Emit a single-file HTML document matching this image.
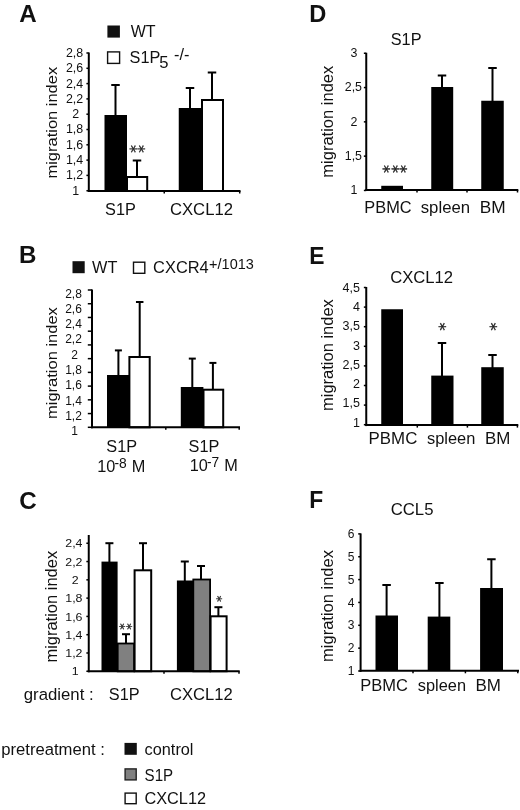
<!DOCTYPE html>
<html lang="en">
<head>
<meta charset="utf-8">
<title>Figure</title>
<style>
html,body{margin:0;padding:0;background:#fff;}
svg{display:block;}
svg text{font-family:"Liberation Sans", "DejaVu Sans", sans-serif;fill:#111;}
svg text.ast{font-family:"DejaVu Sans", "Liberation Sans", sans-serif;fill:#1c1c1c;stroke:#1c1c1c;stroke-width:0.3px;}
</style>
</head>
<body>
<svg width="520" height="810" viewBox="0 0 520 810">
<rect x="0" y="0" width="520" height="810" fill="#fff"/>
<text transform="translate(19.20 22.00) scale(1.0232 1)" font-size="23.6" font-weight="bold">A</text>
<rect x="107.40" y="25.50" width="12.50" height="12.10" fill="#111"/>
<text transform="translate(130.63 37.30) scale(0.9841 1)" font-size="16.3">WT</text>
<rect x="107.60" y="51.90" width="12.00" height="11.50" fill="#fff" stroke="#111" stroke-width="1.4"/>
<text x="129.56" y="62.70" font-size="16.3">S1P</text>
<text x="159.34" y="67.80" font-size="16.6">5</text>
<text x="174.08" y="59.60" font-size="16.3">-/-</text>
<line x1="88.80" y1="52.50" x2="88.80" y2="192.00" stroke="#000" stroke-width="2"/>
<line x1="86.40" y1="53.00" x2="88.80" y2="53.00" stroke="#000" stroke-width="1.5"/>
<line x1="86.40" y1="68.30" x2="88.80" y2="68.30" stroke="#000" stroke-width="1.5"/>
<line x1="86.40" y1="83.60" x2="88.80" y2="83.60" stroke="#000" stroke-width="1.5"/>
<line x1="86.40" y1="98.90" x2="88.80" y2="98.90" stroke="#000" stroke-width="1.5"/>
<line x1="86.40" y1="114.20" x2="88.80" y2="114.20" stroke="#000" stroke-width="1.5"/>
<line x1="86.40" y1="129.50" x2="88.80" y2="129.50" stroke="#000" stroke-width="1.5"/>
<line x1="86.40" y1="144.80" x2="88.80" y2="144.80" stroke="#000" stroke-width="1.5"/>
<line x1="86.40" y1="160.10" x2="88.80" y2="160.10" stroke="#000" stroke-width="1.5"/>
<line x1="86.40" y1="175.40" x2="88.80" y2="175.40" stroke="#000" stroke-width="1.5"/>
<line x1="86.40" y1="190.70" x2="88.80" y2="190.70" stroke="#000" stroke-width="1.5"/>
<text transform="translate(74.50 56.93) scale(1.0 1)" font-size="12.4" text-anchor="middle">2,8</text>
<text transform="translate(74.50 72.23) scale(1.0 1)" font-size="12.4" text-anchor="middle">2,6</text>
<text transform="translate(74.50 87.53) scale(1.0 1)" font-size="12.4" text-anchor="middle">2,4</text>
<text transform="translate(74.50 102.83) scale(1.0 1)" font-size="12.4" text-anchor="middle">2,2</text>
<text transform="translate(75.70 118.13) scale(1.0 1)" font-size="12.4" text-anchor="middle">2</text>
<text transform="translate(74.50 133.43) scale(1.0 1)" font-size="12.4" text-anchor="middle">1,8</text>
<text transform="translate(74.50 148.73) scale(1.0 1)" font-size="12.4" text-anchor="middle">1,6</text>
<text transform="translate(74.50 164.03) scale(1.0 1)" font-size="12.4" text-anchor="middle">1,4</text>
<text transform="translate(74.50 179.33) scale(1.0 1)" font-size="12.4" text-anchor="middle">1,2</text>
<text transform="translate(75.70 194.63) scale(1.0 1)" font-size="12.4" text-anchor="middle">1</text>
<text transform="translate(57.0 122.7) rotate(-90) scale(1.115 1)" font-size="14.8" text-anchor="middle">migration index</text>
<rect x="104.50" y="115.00" width="22.50" height="76.00" fill="#000"/>
<rect x="127.00" y="177.00" width="20.20" height="14.00" fill="#fff" stroke="#000" stroke-width="2"/>
<rect x="178.75" y="108.00" width="23.25" height="83.00" fill="#000"/>
<rect x="202.00" y="100.00" width="21.00" height="91.00" fill="#fff" stroke="#000" stroke-width="2"/>
<line x1="115.50" y1="85.00" x2="115.50" y2="115.00" stroke="#000" stroke-width="2"/>
<line x1="111.25" y1="85.00" x2="119.75" y2="85.00" stroke="#000" stroke-width="2"/>
<line x1="137.00" y1="160.50" x2="137.00" y2="177.00" stroke="#000" stroke-width="2"/>
<line x1="132.75" y1="160.50" x2="141.25" y2="160.50" stroke="#000" stroke-width="2"/>
<line x1="190.00" y1="88.00" x2="190.00" y2="108.00" stroke="#000" stroke-width="2"/>
<line x1="185.75" y1="88.00" x2="194.25" y2="88.00" stroke="#000" stroke-width="2"/>
<line x1="212.00" y1="72.50" x2="212.00" y2="100.00" stroke="#000" stroke-width="2"/>
<line x1="207.75" y1="72.50" x2="216.25" y2="72.50" stroke="#000" stroke-width="2"/>
<line x1="87.80" y1="191.00" x2="240.50" y2="191.00" stroke="#000" stroke-width="2"/>
<line x1="164.25" y1="191.00" x2="164.25" y2="193.50" stroke="#000" stroke-width="1.5"/>
<line x1="239.70" y1="191.00" x2="239.70" y2="193.50" stroke="#000" stroke-width="1.5"/>
<text class="ast" transform="rotate(90 133.00 149.00)" x="129.10" y="157.02" font-size="15.6">*</text>
<text class="ast" transform="rotate(90 141.50 149.00)" x="137.60" y="157.02" font-size="15.6">*</text>
<text x="105.06" y="215.00" font-size="16.3">S1P</text>
<text transform="translate(169.95 215.00) scale(1.0240 1)" font-size="16.3">CXCL12</text>
<text transform="translate(19.09 263.00) scale(1.0213 1)" font-size="23.6" font-weight="bold">B</text>
<rect x="72.50" y="261.20" width="12.20" height="12.00" fill="#111"/>
<text x="92.03" y="273.10" font-size="16.3">WT</text>
<rect x="133.50" y="262.20" width="11.30" height="11.10" fill="#fff" stroke="#111" stroke-width="1.4"/>
<text transform="translate(153.07 273.20) scale(1.0084 1)" font-size="16.3">CXCR4</text>
<text transform="translate(209.09 269.20) scale(1.0068 1)" font-size="14.4">+/1013</text>
<line x1="92.00" y1="289.50" x2="92.00" y2="428.30" stroke="#000" stroke-width="2"/>
<line x1="87.80" y1="290.00" x2="92.00" y2="290.00" stroke="#000" stroke-width="1.5"/>
<line x1="87.80" y1="303.73" x2="92.00" y2="303.73" stroke="#000" stroke-width="1.5"/>
<line x1="87.80" y1="317.46" x2="92.00" y2="317.46" stroke="#000" stroke-width="1.5"/>
<line x1="87.80" y1="331.19" x2="92.00" y2="331.19" stroke="#000" stroke-width="1.5"/>
<line x1="87.80" y1="344.92" x2="92.00" y2="344.92" stroke="#000" stroke-width="1.5"/>
<line x1="87.80" y1="358.65" x2="92.00" y2="358.65" stroke="#000" stroke-width="1.5"/>
<line x1="87.80" y1="372.38" x2="92.00" y2="372.38" stroke="#000" stroke-width="1.5"/>
<line x1="87.80" y1="386.11" x2="92.00" y2="386.11" stroke="#000" stroke-width="1.5"/>
<line x1="87.80" y1="399.84" x2="92.00" y2="399.84" stroke="#000" stroke-width="1.5"/>
<line x1="87.80" y1="413.57" x2="92.00" y2="413.57" stroke="#000" stroke-width="1.5"/>
<line x1="87.80" y1="427.30" x2="92.00" y2="427.30" stroke="#000" stroke-width="1.5"/>
<text transform="translate(73.50 297.59) scale(1.0 1)" font-size="12" text-anchor="middle">2,8</text>
<text transform="translate(73.50 312.89) scale(1.0 1)" font-size="12" text-anchor="middle">2,6</text>
<text transform="translate(73.50 328.19) scale(1.0 1)" font-size="12" text-anchor="middle">2,4</text>
<text transform="translate(73.50 343.49) scale(1.0 1)" font-size="12" text-anchor="middle">2,2</text>
<text transform="translate(74.70 358.79) scale(1.0 1)" font-size="12" text-anchor="middle">2</text>
<text transform="translate(73.50 374.09) scale(1.0 1)" font-size="12" text-anchor="middle">1,8</text>
<text transform="translate(73.50 389.39) scale(1.0 1)" font-size="12" text-anchor="middle">1,6</text>
<text transform="translate(73.50 404.69) scale(1.0 1)" font-size="12" text-anchor="middle">1,4</text>
<text transform="translate(73.50 419.99) scale(1.0 1)" font-size="12" text-anchor="middle">1,2</text>
<text transform="translate(74.70 435.29) scale(1.0 1)" font-size="12" text-anchor="middle">1</text>
<text transform="translate(56.7 363.1) rotate(-90) scale(1.115 1)" font-size="14.8" text-anchor="middle">migration index</text>
<rect x="107.00" y="375.00" width="22.20" height="52.30" fill="#000"/>
<rect x="129.40" y="357.00" width="20.30" height="70.30" fill="#fff" stroke="#000" stroke-width="2"/>
<rect x="180.80" y="387.00" width="22.60" height="40.30" fill="#000"/>
<rect x="203.50" y="389.70" width="19.70" height="37.60" fill="#fff" stroke="#000" stroke-width="2"/>
<line x1="118.40" y1="350.40" x2="118.40" y2="375.00" stroke="#000" stroke-width="2"/>
<line x1="114.90" y1="350.40" x2="121.90" y2="350.40" stroke="#000" stroke-width="2"/>
<line x1="139.70" y1="302.00" x2="139.70" y2="357.00" stroke="#000" stroke-width="2"/>
<line x1="135.95" y1="302.00" x2="143.45" y2="302.00" stroke="#000" stroke-width="2"/>
<line x1="192.30" y1="358.60" x2="192.30" y2="387.00" stroke="#000" stroke-width="2"/>
<line x1="188.80" y1="358.60" x2="195.80" y2="358.60" stroke="#000" stroke-width="2"/>
<line x1="212.90" y1="362.90" x2="212.90" y2="389.70" stroke="#000" stroke-width="2"/>
<line x1="209.40" y1="362.90" x2="216.40" y2="362.90" stroke="#000" stroke-width="2"/>
<line x1="91.00" y1="427.30" x2="240.00" y2="427.30" stroke="#000" stroke-width="2"/>
<line x1="165.80" y1="427.30" x2="165.80" y2="429.80" stroke="#000" stroke-width="1.5"/>
<line x1="239.20" y1="427.30" x2="239.20" y2="429.80" stroke="#000" stroke-width="1.5"/>
<text x="106.36" y="452.30" font-size="16.3">S1P</text>
<text x="188.56" y="452.30" font-size="16.3">S1P</text>
<text x="97.16" y="472.40" font-size="16.3">10</text>
<text x="114.39" y="468.40" font-size="13.8">-8</text>
<text x="131.86" y="472.40" font-size="16.3">M</text>
<text x="189.76" y="471.20" font-size="16.3">10</text>
<text x="206.99" y="467.20" font-size="13.8">-7</text>
<text x="224.26" y="471.20" font-size="16.3">M</text>
<text transform="translate(19.21 509.40) scale(1.0240 1)" font-size="23.6" font-weight="bold">C</text>
<line x1="88.75" y1="535.00" x2="88.75" y2="672.25" stroke="#000" stroke-width="2"/>
<line x1="86.35" y1="543.25" x2="88.75" y2="543.25" stroke="#000" stroke-width="1.5"/>
<line x1="86.35" y1="561.54" x2="88.75" y2="561.54" stroke="#000" stroke-width="1.5"/>
<line x1="86.35" y1="579.83" x2="88.75" y2="579.83" stroke="#000" stroke-width="1.5"/>
<line x1="86.35" y1="598.12" x2="88.75" y2="598.12" stroke="#000" stroke-width="1.5"/>
<line x1="86.35" y1="616.41" x2="88.75" y2="616.41" stroke="#000" stroke-width="1.5"/>
<line x1="86.35" y1="634.70" x2="88.75" y2="634.70" stroke="#000" stroke-width="1.5"/>
<line x1="86.35" y1="652.99" x2="88.75" y2="652.99" stroke="#000" stroke-width="1.5"/>
<line x1="86.35" y1="671.28" x2="88.75" y2="671.28" stroke="#000" stroke-width="1.5"/>
<text transform="translate(73.90 547.37) scale(1.05 1)" font-size="11.8" text-anchor="middle">2,4</text>
<text transform="translate(73.90 565.66) scale(1.05 1)" font-size="11.8" text-anchor="middle">2,2</text>
<text transform="translate(75.10 583.95) scale(1.05 1)" font-size="11.8" text-anchor="middle">2</text>
<text transform="translate(73.90 602.24) scale(1.05 1)" font-size="11.8" text-anchor="middle">1,8</text>
<text transform="translate(73.90 620.53) scale(1.05 1)" font-size="11.8" text-anchor="middle">1,6</text>
<text transform="translate(73.90 638.82) scale(1.05 1)" font-size="11.8" text-anchor="middle">1,4</text>
<text transform="translate(73.90 657.11) scale(1.05 1)" font-size="11.8" text-anchor="middle">1,2</text>
<text transform="translate(75.10 675.40) scale(1.05 1)" font-size="11.8" text-anchor="middle">1</text>
<text transform="translate(57.4 606.7) rotate(-90) scale(1.038 1)" font-size="15.9" text-anchor="middle">migration index</text>
<rect x="101.50" y="561.60" width="16.10" height="109.65" fill="#000"/>
<rect x="117.70" y="643.50" width="16.40" height="27.85" fill="#808080" stroke="#000" stroke-width="1.8"/>
<rect x="134.60" y="570.30" width="16.60" height="100.95" fill="#fff" stroke="#000" stroke-width="2"/>
<rect x="176.90" y="580.50" width="16.40" height="90.75" fill="#000"/>
<rect x="193.30" y="579.50" width="16.80" height="91.85" fill="#808080" stroke="#000" stroke-width="1.8"/>
<rect x="210.60" y="616.30" width="16.00" height="54.95" fill="#fff" stroke="#000" stroke-width="2"/>
<line x1="109.40" y1="543.20" x2="109.40" y2="562.00" stroke="#000" stroke-width="2"/>
<line x1="105.40" y1="543.20" x2="113.40" y2="543.20" stroke="#000" stroke-width="2"/>
<line x1="126.00" y1="634.20" x2="126.00" y2="643.50" stroke="#000" stroke-width="2"/>
<line x1="122.00" y1="634.20" x2="130.00" y2="634.20" stroke="#000" stroke-width="2"/>
<line x1="143.00" y1="543.20" x2="143.00" y2="570.00" stroke="#000" stroke-width="2"/>
<line x1="139.00" y1="543.20" x2="147.00" y2="543.20" stroke="#000" stroke-width="2"/>
<line x1="184.80" y1="561.50" x2="184.80" y2="581.00" stroke="#000" stroke-width="2"/>
<line x1="180.80" y1="561.50" x2="188.80" y2="561.50" stroke="#000" stroke-width="2"/>
<line x1="201.00" y1="566.00" x2="201.00" y2="580.00" stroke="#000" stroke-width="2"/>
<line x1="197.00" y1="566.00" x2="205.00" y2="566.00" stroke="#000" stroke-width="2"/>
<line x1="218.40" y1="607.20" x2="218.40" y2="616.00" stroke="#000" stroke-width="2"/>
<line x1="214.40" y1="607.20" x2="222.40" y2="607.20" stroke="#000" stroke-width="2"/>
<line x1="87.75" y1="671.25" x2="239.70" y2="671.25" stroke="#000" stroke-width="2"/>
<line x1="164.00" y1="671.25" x2="164.00" y2="673.75" stroke="#000" stroke-width="1.5"/>
<line x1="239.00" y1="671.25" x2="239.00" y2="673.75" stroke="#000" stroke-width="1.5"/>
<text class="ast" transform="rotate(90 122.60 626.50)" x="119.35" y="633.18" font-size="13">*</text>
<text class="ast" transform="rotate(90 129.80 626.50)" x="126.55" y="633.18" font-size="13">*</text>
<text class="ast" transform="rotate(90 219.70 598.80)" x="216.45" y="605.48" font-size="13">*</text>
<text transform="translate(23.80 699.50) scale(1.0290 1)" font-size="16.3">gradient :</text>
<text x="108.86" y="700.00" font-size="16.3">S1P</text>
<text transform="translate(170.06 700.00) scale(1.0190 1)" font-size="16.3">CXCL12</text>
<text transform="translate(1.23 755.10) scale(1.0219 1)" font-size="16.3">pretreatment :</text>
<rect x="124.50" y="742.90" width="12.30" height="11.90" fill="#111"/>
<rect x="125.10" y="768.90" width="11.10" height="11.00" fill="#808080" stroke="#222" stroke-width="1.4"/>
<rect x="125.10" y="793.10" width="11.10" height="10.60" fill="#fff" stroke="#111" stroke-width="1.4"/>
<text x="144.61" y="754.90" font-size="16.3">control</text>
<text transform="translate(144.61 780.50) scale(0.9278 1)" font-size="16.3">S1P</text>
<text x="144.47" y="804.30" font-size="16.3">CXCL12</text>
<text transform="translate(309.22 21.80) scale(1.0018 1)" font-size="23.6" font-weight="bold">D</text>
<text x="390.76" y="44.50" font-size="16.3">S1P</text>
<line x1="366.25" y1="52.75" x2="366.25" y2="191.00" stroke="#000" stroke-width="2"/>
<line x1="363.85" y1="53.25" x2="366.25" y2="53.25" stroke="#000" stroke-width="1.5"/>
<line x1="363.85" y1="87.55" x2="366.25" y2="87.55" stroke="#000" stroke-width="1.5"/>
<line x1="363.85" y1="121.85" x2="366.25" y2="121.85" stroke="#000" stroke-width="1.5"/>
<line x1="363.85" y1="156.15" x2="366.25" y2="156.15" stroke="#000" stroke-width="1.5"/>
<line x1="363.85" y1="190.45" x2="366.25" y2="190.45" stroke="#000" stroke-width="1.5"/>
<text transform="translate(354.00 57.18) scale(1.0 1)" font-size="12.4" text-anchor="middle">3</text>
<text transform="translate(353.40 91.48) scale(1.0 1)" font-size="12.4" text-anchor="middle">2,5</text>
<text transform="translate(354.00 125.78) scale(1.0 1)" font-size="12.4" text-anchor="middle">2</text>
<text transform="translate(353.40 160.08) scale(1.0 1)" font-size="12.4" text-anchor="middle">1,5</text>
<text transform="translate(354.00 194.38) scale(1.0 1)" font-size="12.4" text-anchor="middle">1</text>
<text transform="translate(333.1 121.7) rotate(-90) scale(1.0127 1)" font-size="16.3" text-anchor="middle">migration index</text>
<rect x="381.25" y="185.80" width="21.75" height="4.20" fill="#000"/>
<rect x="431.25" y="87.00" width="21.95" height="103.00" fill="#000"/>
<rect x="481.25" y="100.75" width="22.50" height="89.25" fill="#000"/>
<line x1="442.00" y1="75.50" x2="442.00" y2="87.00" stroke="#000" stroke-width="2"/>
<line x1="437.75" y1="75.50" x2="446.25" y2="75.50" stroke="#000" stroke-width="2"/>
<line x1="492.50" y1="68.00" x2="492.50" y2="101.00" stroke="#000" stroke-width="2"/>
<line x1="488.25" y1="68.00" x2="496.75" y2="68.00" stroke="#000" stroke-width="2"/>
<line x1="365.25" y1="190.00" x2="518.30" y2="190.00" stroke="#000" stroke-width="2"/>
<line x1="417.00" y1="190.00" x2="417.00" y2="192.50" stroke="#000" stroke-width="1.5"/>
<line x1="467.00" y1="190.00" x2="467.00" y2="192.50" stroke="#000" stroke-width="1.5"/>
<line x1="517.50" y1="190.00" x2="517.50" y2="192.50" stroke="#000" stroke-width="1.5"/>
<text class="ast" transform="rotate(90 386.30 168.90)" x="382.35" y="177.02" font-size="15.8">*</text>
<text class="ast" transform="rotate(90 394.90 168.90)" x="390.95" y="177.02" font-size="15.8">*</text>
<text class="ast" transform="rotate(90 403.50 168.90)" x="399.55" y="177.02" font-size="15.8">*</text>
<text transform="translate(364.36 213.00) scale(1.0036 1)" font-size="16.3">PBMC</text>
<text transform="translate(420.73 213.00) scale(1.0275 1)" font-size="16.3">spleen</text>
<text transform="translate(479.78 213.00) scale(1.0608 1)" font-size="16.3">BM</text>
<text transform="translate(309.27 263.80) scale(0.9667 1)" font-size="23.6" font-weight="bold">E</text>
<text transform="translate(390.15 282.60) scale(1.0223 1)" font-size="16.3">CXCL12</text>
<line x1="366.25" y1="287.00" x2="366.25" y2="426.10" stroke="#000" stroke-width="2"/>
<line x1="363.85" y1="287.50" x2="366.25" y2="287.50" stroke="#000" stroke-width="1.5"/>
<line x1="363.85" y1="307.10" x2="366.25" y2="307.10" stroke="#000" stroke-width="1.5"/>
<line x1="363.85" y1="326.70" x2="366.25" y2="326.70" stroke="#000" stroke-width="1.5"/>
<line x1="363.85" y1="346.30" x2="366.25" y2="346.30" stroke="#000" stroke-width="1.5"/>
<line x1="363.85" y1="365.90" x2="366.25" y2="365.90" stroke="#000" stroke-width="1.5"/>
<line x1="363.85" y1="385.50" x2="366.25" y2="385.50" stroke="#000" stroke-width="1.5"/>
<line x1="363.85" y1="405.10" x2="366.25" y2="405.10" stroke="#000" stroke-width="1.5"/>
<line x1="363.85" y1="424.70" x2="366.25" y2="424.70" stroke="#000" stroke-width="1.5"/>
<text x="360.00" y="291.76" font-size="12.5" text-anchor="end">4,5</text>
<text x="360.00" y="311.01" font-size="12.5" text-anchor="end">4</text>
<text x="360.00" y="330.26" font-size="12.5" text-anchor="end">3,5</text>
<text x="360.00" y="349.51" font-size="12.5" text-anchor="end">3</text>
<text x="360.00" y="368.76" font-size="12.5" text-anchor="end">2,5</text>
<text x="360.00" y="388.01" font-size="12.5" text-anchor="end">2</text>
<text x="360.00" y="407.26" font-size="12.5" text-anchor="end">1,5</text>
<text x="360.00" y="426.51" font-size="12.5" text-anchor="end">1</text>
<text transform="translate(333.3 355.1) rotate(-90) scale(1.0127 1)" font-size="16.3" text-anchor="middle">migration index</text>
<rect x="381.25" y="309.25" width="21.75" height="115.85" fill="#000"/>
<rect x="431.25" y="375.60" width="22.25" height="49.50" fill="#000"/>
<rect x="481.25" y="367.20" width="22.50" height="57.90" fill="#000"/>
<line x1="442.00" y1="343.00" x2="442.00" y2="376.00" stroke="#000" stroke-width="2"/>
<line x1="437.75" y1="343.00" x2="446.25" y2="343.00" stroke="#000" stroke-width="2"/>
<line x1="492.50" y1="355.00" x2="492.50" y2="368.00" stroke="#000" stroke-width="2"/>
<line x1="488.25" y1="355.00" x2="496.75" y2="355.00" stroke="#000" stroke-width="2"/>
<line x1="365.25" y1="425.10" x2="518.30" y2="425.10" stroke="#000" stroke-width="2"/>
<line x1="417.30" y1="425.10" x2="417.30" y2="427.60" stroke="#000" stroke-width="1.5"/>
<line x1="467.40" y1="425.10" x2="467.40" y2="427.60" stroke="#000" stroke-width="1.5"/>
<line x1="517.40" y1="425.10" x2="517.40" y2="427.60" stroke="#000" stroke-width="1.5"/>
<text class="ast" transform="rotate(90 442.50 326.60)" x="438.40" y="335.03" font-size="16.4">*</text>
<text class="ast" transform="rotate(90 493.30 326.60)" x="489.20" y="335.03" font-size="16.4">*</text>
<text transform="translate(368.62 444.20) scale(1.0160 1)" font-size="16.6">PBMC</text>
<text transform="translate(426.94 444.00) scale(0.9899 1)" font-size="16.6">spleen</text>
<text transform="translate(485.01 444.20) scale(1.0191 1)" font-size="16.6">BM</text>
<text transform="translate(309.27 507.50) scale(0.9689 1)" font-size="23.6" font-weight="bold">F</text>
<text transform="translate(390.65 515.10) scale(1.0284 1)" font-size="16.3">CCL5</text>
<line x1="360.60" y1="533.40" x2="360.60" y2="671.80" stroke="#000" stroke-width="2"/>
<line x1="358.20" y1="533.90" x2="360.60" y2="533.90" stroke="#000" stroke-width="1.5"/>
<line x1="358.20" y1="556.75" x2="360.60" y2="556.75" stroke="#000" stroke-width="1.5"/>
<line x1="358.20" y1="579.60" x2="360.60" y2="579.60" stroke="#000" stroke-width="1.5"/>
<line x1="358.20" y1="602.45" x2="360.60" y2="602.45" stroke="#000" stroke-width="1.5"/>
<line x1="358.20" y1="625.30" x2="360.60" y2="625.30" stroke="#000" stroke-width="1.5"/>
<line x1="358.20" y1="648.15" x2="360.60" y2="648.15" stroke="#000" stroke-width="1.5"/>
<line x1="358.20" y1="671.00" x2="360.60" y2="671.00" stroke="#000" stroke-width="1.5"/>
<text transform="translate(351.00 538.09) scale(1.0 1)" font-size="12" text-anchor="middle">6</text>
<text transform="translate(351.00 560.94) scale(1.0 1)" font-size="12" text-anchor="middle">5</text>
<text transform="translate(351.00 583.79) scale(1.0 1)" font-size="12" text-anchor="middle">5</text>
<text transform="translate(351.00 606.64) scale(1.0 1)" font-size="12" text-anchor="middle">4</text>
<text transform="translate(351.00 629.49) scale(1.0 1)" font-size="12" text-anchor="middle">3</text>
<text transform="translate(351.00 652.34) scale(1.0 1)" font-size="12" text-anchor="middle">2</text>
<text transform="translate(351.00 675.19) scale(1.0 1)" font-size="12" text-anchor="middle">1</text>
<text transform="translate(333.0 606.0) rotate(-90) scale(1.0127 1)" font-size="16.3" text-anchor="middle">migration index</text>
<rect x="375.50" y="615.50" width="22.50" height="55.30" fill="#000"/>
<rect x="427.70" y="616.60" width="22.60" height="54.20" fill="#000"/>
<rect x="480.10" y="588.00" width="22.90" height="82.80" fill="#000"/>
<line x1="386.60" y1="585.00" x2="386.60" y2="616.00" stroke="#000" stroke-width="2"/>
<line x1="382.35" y1="585.00" x2="390.85" y2="585.00" stroke="#000" stroke-width="2"/>
<line x1="439.40" y1="583.00" x2="439.40" y2="617.00" stroke="#000" stroke-width="2"/>
<line x1="435.15" y1="583.00" x2="443.65" y2="583.00" stroke="#000" stroke-width="2"/>
<line x1="491.40" y1="559.25" x2="491.40" y2="588.00" stroke="#000" stroke-width="2"/>
<line x1="487.15" y1="559.25" x2="495.65" y2="559.25" stroke="#000" stroke-width="2"/>
<line x1="359.60" y1="670.80" x2="519.00" y2="670.80" stroke="#000" stroke-width="2"/>
<line x1="413.00" y1="670.80" x2="413.00" y2="673.30" stroke="#000" stroke-width="1.5"/>
<line x1="465.40" y1="670.80" x2="465.40" y2="673.30" stroke="#000" stroke-width="1.5"/>
<line x1="517.80" y1="670.80" x2="517.80" y2="673.30" stroke="#000" stroke-width="1.5"/>
<text transform="translate(360.15 690.80) scale(1.0125 1)" font-size="16.3">PBMC</text>
<text transform="translate(417.84 690.80) scale(1.0039 1)" font-size="16.3">spleen</text>
<text transform="translate(475.41 690.80) scale(1.0424 1)" font-size="16.3">BM</text>
</svg>
</body>
</html>
